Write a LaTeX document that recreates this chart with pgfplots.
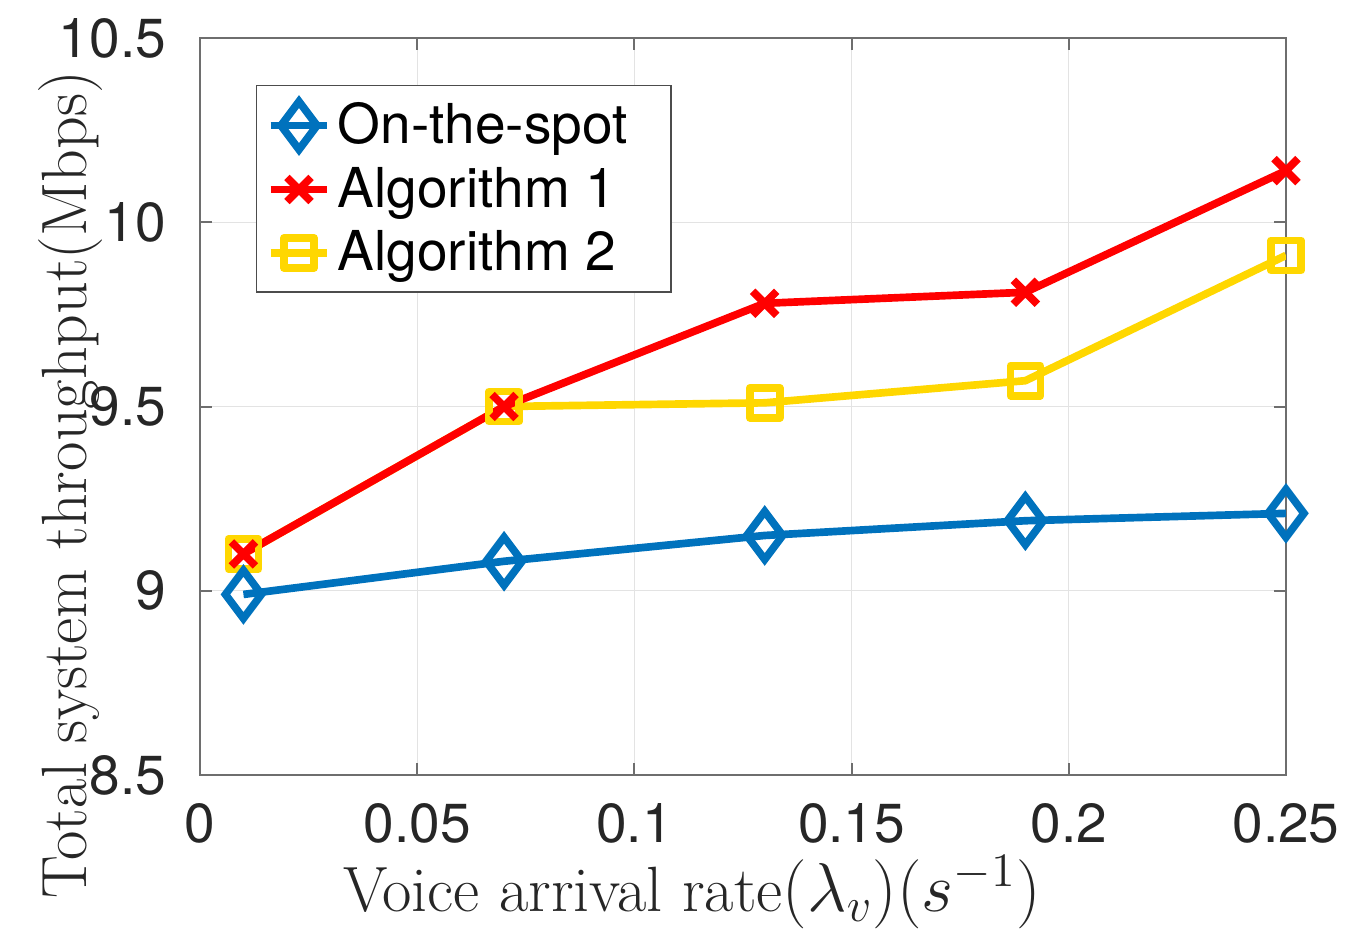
\documentclass[border=0pt]{standalone}
\usepackage{fontspec}
\usepackage{pgfplots}
\pgfplotsset{compat=1.18}
\newfontfamily\helv{TeX Gyre Heros}

\definecolor{mblue}{RGB}{0,114,189}
\definecolor{mred}{RGB}{255,0,0}
\definecolor{myellow}{RGB}{255,215,0}
\definecolor{axgray}{RGB}{110,110,110}

\begin{document}
\begin{tikzpicture}
\path[use as bounding box] (-60pt,-46.5pt) rectangle (345pt,232.5pt);
\begin{axis}[
  at={(0pt,0pt)}, anchor=south west,
  scale only axis, width=325.8pt, height=221.1pt,
  xmin=0, xmax=0.25, ymin=8.5, ymax=10.5,
  xtick={0,0.05,0.1,0.15,0.2,0.25},
  xticklabels={0,0.05,0.1,0.15,0.2,0.25},
  ytick={8.5,9,9.5,10,10.5},
  yticklabels={8.5,9,9.5,10,10.5},
  scaled x ticks=false,
  tick align=inside,
  major tick length=3.6pt,
  axis line style={draw=axgray, line width=0.6pt},
  every tick/.style={draw=axgray, line width=0.6pt},
  grid=major,
  major grid style={draw=black!11, line width=0.3pt},
  tick label style={font=\helv\fontsize{16.5}{20}\selectfont, text=black!85},
  xticklabel style={anchor=north, inner sep=0pt, yshift=-8.4pt},
  yticklabel style={anchor=east, inner sep=0pt, xshift=-10pt},
  label style={font=\fontsize{19.2}{23}\selectfont, text=black!85},
  xlabel={Voice arrival rate$(\lambda_v)(s^{-1})$},
  ylabel={Total system throughput(Mbps)},
  xlabel style={at={(axis description cs:0.453,-0.159)}, anchor=center},
  ylabel style={at={(axis description cs:-0.119,0.394)}, anchor=center},
  legend style={at={(axis description cs:0.0516,0.936)}, anchor=north west,
    draw=black!70, line width=0.4pt, font=\helv\fontsize{16.5}{20}\selectfont,
    inner xsep=3pt, inner ysep=3pt, row sep=1.5pt},
  legend cell align=left,
  reverse legend,
  every axis plot/.append style={line width=2.3pt, line join=round},
]
% drawn back to front: Algorithm 2, Algorithm 1, On-the-spot
\addplot[color=myellow, mark=square, mark size=4.5pt,
  mark options={solid, line join=round}]
  coordinates {(0.01,9.10) (0.07,9.50) (0.13,9.51) (0.19,9.57) (0.25,9.91)};
\addlegendentry{Algorithm 2}
\addplot[color=mred, mark=x, mark size=5.1pt, mark options={solid}]
  coordinates {(0.01,9.10) (0.07,9.50) (0.13,9.78) (0.19,9.81) (0.25,10.14)};
\addlegendentry{Algorithm 1}
\addplot[color=mblue, mark=diamond, mark size=7.2pt,
  mark options={solid, line join=miter}]
  coordinates {(0.01,8.99) (0.07,9.08) (0.13,9.15) (0.19,9.19) (0.25,9.21)};
\addlegendentry{On-the-spot\rule{8pt}{0pt}}
\end{axis}
\end{tikzpicture}
\end{document}
